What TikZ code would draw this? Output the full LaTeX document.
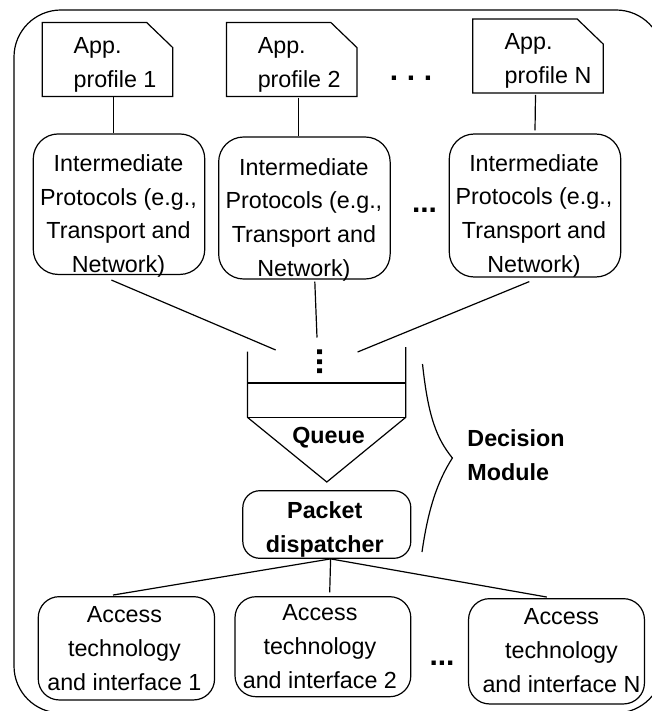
\documentclass[tikz,border=0pt]{standalone}
\usepackage{fontspec}
\setmainfont{Liberation Sans}
\tikzset{
  x=1pt,y=-1pt,
  ln/.style={draw=black,line width=1.2pt},
  txt/.style={align=center,inner sep=0pt,font=\fontsize{23.3}{33.8}\selectfont,
    execute at begin node=\strut,execute at end node=\strut},
  btxt/.style={txt,font=\fontsize{23.3}{33.8}\selectfont\bfseries},
  doc/.style={rectangle,inner sep=0pt,minimum width=130pt,minimum height=73.5pt},
  rbox/.style={ln,rectangle,rounded corners=#1,inner sep=0pt},
  rbox/.default=25pt,
  dotsA/.style={inner sep=0pt,font=\fontsize{30}{30}\selectfont\bfseries},
}
\newcommand{\docline}[1]{\draw[ln] (#1.north west) -- ([xshift=-26pt]#1.north east) -- ([yshift=-25pt]#1.north east) -- (#1.south east) -- (#1.south west) -- cycle;}
\begin{document}
\begin{tikzpicture}
\useasboundingbox (0,0) rectangle (652,711);
\clip (0,0) rectangle (652,711);
% outer frame
\node[rbox=47pt,minimum width=649pt,minimum height=703pt] (frame) at (338.5,361.5) {};
% application profiles
\node[doc,label={[txt,xshift=7.5pt,yshift=-8pt,align=left]center:{App.\\profile 1}}] (app1) at (107.5,59.5) {};
\node[doc,label={[txt,xshift=7.5pt,yshift=-8pt,align=left]center:{App.\\profile 2}}] (app2) at (291.7,59.5) {};
\node[doc,label={[txt,xshift=10pt,yshift=-7.5pt,align=left]center:{App.\\profile N}}] (appN) at (538,56) {};
\docline{app1}
\docline{app2}
\docline{appN}
% intermediate protocols
\node[rbox,minimum width=171.5pt,minimum height=140.5pt,
  label={[txt,xshift=-0.5pt,yshift=-14.5pt]center:{Intermediate\\Protocols (e.g.,\\Transport and\\Network)}}] (ip1) at (119,204.2) {};
\node[rbox,minimum width=171.5pt,minimum height=142pt,
  label={[txt,xshift=-0.5pt,yshift=-14.5pt]center:{Intermediate\\Protocols (e.g.,\\Transport and\\Network)}}] (ip2) at (304.4,208) {};
\node[rbox,minimum width=171.5pt,minimum height=143pt,
  label={[txt,xshift=-1pt,yshift=-13pt]center:{Intermediate\\Protocols (e.g.,\\Transport and\\Network)}}] (ipN) at (535,205.5) {};
\draw[ln] ([xshift=5.9pt]app1.south) -- ([xshift=-5.6pt]ip1.north);
\draw[ln] ([xshift=6.8pt,yshift=-1.5pt]app2.south) -- ([xshift=-5.9pt]ip2.north);
\draw[ln] ([xshift=-2.5pt,yshift=-2pt]appN.south) -- ([yshift=3pt]ipN.north);
% ellipsis marks
\node[dotsA] (d1) at (411,78) {.\hspace{8.7pt}.\hspace{8.7pt}.};
\node[dotsA] (d2) at (424.5,210) {...};
\node[dotsA] (d3) at (442,663) {...};
\node[dotsA,rotate=-90,font=\fontsize{34}{34}\selectfont\bfseries] (d4) at (320,362) {...};
% queue
\coordinate (qtl) at (247.4,351.7);
\coordinate (qtr) at (405.8,347);
\coordinate (qml) at (247.4,383);
\coordinate (qmr) at (405.8,383);
\coordinate (qbl) at (247.4,417.3);
\coordinate (qbr) at (405.8,417.3);
\coordinate (qtip) at (326.8,482);
\draw[ln] (qtl) -- (qbl) -- (qtip) -- (qbr) -- (qtr);
\draw[ln] (qml) -- (qmr);
\draw[ln] (qbl) -- (qbr);
\node[btxt] (queue) at (328.5,436.5) {Queue};
\coordinate (q1) at (275.7,350);
\coordinate (q2) at (317,337.5);
\coordinate (q3) at (357.6,352);
\draw[ln] ([xshift=-7.6pt,yshift=-5pt]ip1.south) -- (q1);
\draw[ln] ([xshift=10.4pt,yshift=-2pt]ip2.south) -- (q2);
\draw[ln] ([xshift=-5.7pt,yshift=-4pt]ipN.south) -- (q3);
% decision module brace
\coordinate (bt) at (422.5,364);
\coordinate (bm) at (452.4,458);
\coordinate (bb) at (422,552);
\draw[ln] (bt) .. controls (428,415) and (436,438) .. (bm) .. controls (437,482) and (428,510) .. (bb);
\node[btxt,align=left] (dm) at (516,460.5) {Decision\\Module};
% dispatcher
\node[rbox=17pt,minimum width=168pt,minimum height=67.6pt,
  label={[btxt,xshift=-2pt,yshift=-8pt]center:{Packet\\dispatcher}}] (pd) at (326.8,524.5) {};
% access technologies
\node[rbox=21pt,minimum width=176.3pt,minimum height=103.3pt,
  label={[txt,xshift=-2pt,yshift=-5pt]center:{Access\\technology\\and interface 1}}] (ac1) at (126.4,648.3) {};
\node[rbox=21pt,minimum width=175.8pt,minimum height=100pt,
  label={[txt,xshift=-3pt,yshift=-5pt]center:{Access\\technology\\and interface 2}}] (ac2) at (322.9,646.7) {};
\node[rbox=21pt,minimum width=175.9pt,minimum height=105.3pt,
  label={[txt,xshift=5pt,yshift=-4.5pt]center:{Access\\technology\\and interface N}}] (acN) at (556.5,651.3) {};
\draw[ln] ([xshift=3.8pt]pd.south) -- ([xshift=-13.4pt,yshift=1pt]ac1.north);
\draw[ln] ([xshift=3.8pt]pd.south) -- ([xshift=6.8pt,yshift=3.7pt]ac2.north);
\draw[ln] ([xshift=3.8pt]pd.south) -- ([xshift=-9.7pt,yshift=1pt]acN.north);
\end{tikzpicture}
\end{document}
